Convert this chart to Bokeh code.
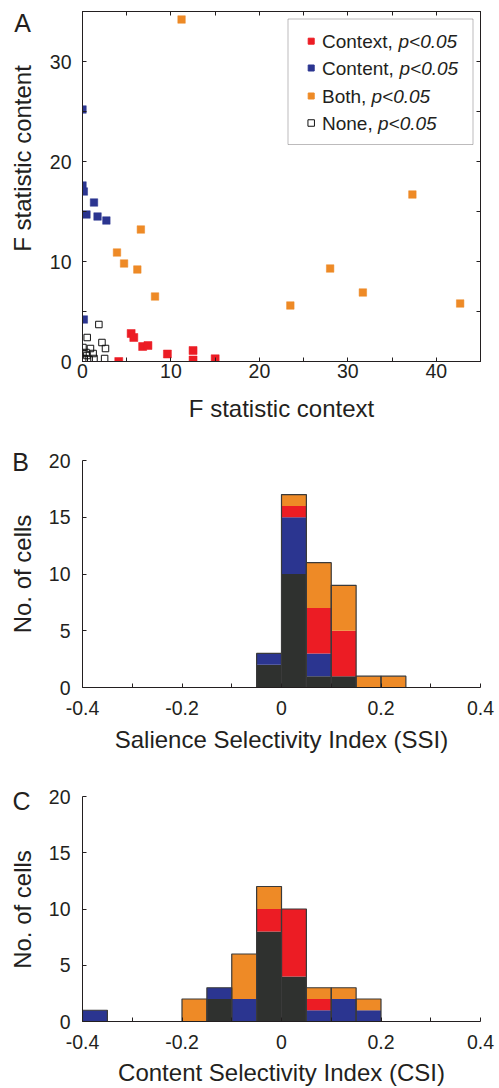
import numpy as np
from bokeh.plotting import figure
from bokeh.models import (Range1d, LinearAxis, FixedTicker, BoxAnnotation,
                          ColumnDataSource)
from bokeh.layouts import column, row
from bokeh.core.properties import value
from bokeh.embed import file_html
from bokeh.resources import INLINE

# ---------------- data ----------------
# Panel A: F statistics (x = context, y = content)
context_x = [4.1, 5.5, 5.8, 6.8, 7.4, 9.6, 12.5, 12.5, 15.0]
context_y = [0.0, 2.8, 2.4, 1.5, 1.6, 0.75, 1.1, 0.15, 0.27]
content_x = [0.0, 0.0, 0.15, 1.3, 0.45, 1.7, 2.7, 0.15]
content_y = [25.2, 17.6, 17.0, 15.9, 14.7, 14.5, 14.1, 4.2]
both_x = [11.2, 6.6, 3.9, 4.7, 6.2, 8.2, 37.3, 28.0, 31.7, 23.5, 42.7]
both_y = [34.2, 13.2, 10.9, 9.8, 9.2, 6.5, 16.7, 9.3, 6.9, 5.6, 5.8]
none_x = [1.85, 0.53, 2.2, 2.6, 0.9, 0.05, 0.05, 0.4, 1.2, 2.5, 0.2, 0.75, 1.3, 0.5]
none_y = [3.7, 2.4, 1.9, 1.3, 1.3, 1.4, 0.8, 0.9, 0.8, 0.3, 0.3, 0.2, 0.3, 0.6]

legend_names = ["Context, ", "Content, ", "Both, ", "None, "]
legend_italic = ["p<0.05", "p<0.05", "p<0.05", "p<0.05"]

a_xticks = [0, 10, 20, 30, 40]
a_xminor = [5, 15, 25, 35, 45]
a_yticks = [0, 10, 20, 30]
a_yminor = [5, 15, 25, 35]

# Panels B, C: histograms, bin edges and stacked counts
bin_edges = [-0.4, -0.35, -0.3, -0.25, -0.2, -0.15, -0.1, -0.05, 0.0,
             0.05, 0.1, 0.15, 0.2, 0.25, 0.3, 0.35, 0.4]
ssi_none    = [0, 0, 0, 0, 0, 0, 0, 2, 10, 1, 1, 0, 0, 0, 0, 0]
ssi_content = [0, 0, 0, 0, 0, 0, 0, 1, 5, 2, 0, 0, 0, 0, 0, 0]
ssi_context = [0, 0, 0, 0, 0, 0, 0, 0, 1, 4, 4, 0, 0, 0, 0, 0]
ssi_both    = [0, 0, 0, 0, 0, 0, 0, 0, 1, 4, 4, 1, 1, 0, 0, 0]
csi_none    = [0, 0, 0, 0, 0, 2, 0, 8, 4, 0, 0, 0, 0, 0, 0, 0]
csi_content = [1, 0, 0, 0, 0, 1, 2, 0, 0, 1, 2, 1, 0, 0, 0, 0]
csi_context = [0, 0, 0, 0, 0, 0, 0, 2, 6, 1, 0, 0, 0, 0, 0, 0]
csi_both    = [0, 0, 0, 0, 2, 0, 4, 2, 0, 1, 1, 1, 0, 0, 0, 0]

h_xticks = [-0.4, -0.2, 0.0, 0.2, 0.4]
h_xtick_labels = ["-0.4", "-0.2", "0", "0.2", "0.4"]
h_xminor = [-0.3, -0.1, 0.1, 0.3]
h_yticks = [0, 5, 10, 15, 20]

panel_letters = ["A", "B", "C"]
y_labels = ["F statistic content", "No. of cells", "No. of cells"]
x_labels = ["F statistic context", "Salience Selectivity Index (SSI)",
            "Content Selectivity Index (CSI)"]

# ---------------- style ----------------
RED = "#ec1c24"
BLUE = "#2b3590"
ORANGE = "#ee8a26"
DARK = "#2f312f"
TXT = "#231f20"
FONT = "Liberation Sans"
TICK_FS = "19.5px"
LAB_FS = "24px"
PAGE_W, PAGE_H = 499, 1088
STRIP = 40                      # narrow left strip holding letters and y labels
W = PAGE_W - STRIP
LEFT, RIGHT = 82 - STRIP, 19    # borders of the main figures


def style_axis(ax, standoff, labels=True):
    ax.axis_line_color = TXT
    ax.axis_line_width = 1
    ax.major_tick_line_color = TXT
    ax.minor_tick_line_color = TXT
    ax.major_tick_in = 4
    ax.major_tick_out = 0
    ax.minor_tick_in = 4
    ax.minor_tick_out = 0
    ax.major_label_text_font = FONT
    ax.major_label_text_color = TXT
    ax.major_label_standoff = standoff
    ax.major_label_text_font_size = TICK_FS
    ax.axis_label_text_font = FONT
    ax.axis_label_text_font_size = LAB_FS
    ax.axis_label_text_font_style = "normal"
    ax.axis_label_text_color = TXT
    if not labels:
        ax.major_label_text_font_size = "1px"
        ax.major_label_standoff = 0
        ax.major_label_text_alpha = 0


def px_to_data(frame, xr, yr, px, py):
    """page-pixel position -> data coordinates of a frame (left, top, w, h)"""
    l, t, w, h = frame
    x = xr[0] + (px - l) / w * (xr[1] - xr[0])
    y = yr[1] - (py - t) / h * (yr[1] - yr[0])
    return x, y


# ---------------- Panel A ----------------
A_H, A_TOP, A_FH = 430, 11, 350
a_xr, a_yr = (0, 45), (0, 35)
pA = figure(width=W, height=A_H, output_backend="svg", toolbar_location=None,
            x_range=Range1d(*a_xr), y_range=Range1d(*a_yr),
            min_border_left=LEFT, min_border_right=RIGHT,
            min_border_top=A_TOP, min_border_bottom=A_H - A_TOP - A_FH)
pA.xaxis.ticker = FixedTicker(ticks=a_xticks, minor_ticks=a_xminor)
pA.yaxis.ticker = FixedTicker(ticks=a_yticks, minor_ticks=a_yminor)
style_axis(pA.xaxis[0], 2)
style_axis(pA.yaxis[0], 11)
pA.xaxis.axis_label = x_labels[0]
pA.xaxis.axis_label_standoff = 14
top_ax = LinearAxis(ticker=FixedTicker(ticks=a_xticks, minor_ticks=a_xminor))
right_ax = LinearAxis(ticker=FixedTicker(ticks=a_yticks, minor_ticks=a_yminor))
style_axis(top_ax, 0, labels=False)
style_axis(right_ax, 0, labels=False)
pA.add_layout(top_ax, "above")
pA.add_layout(right_ax, "right")
pA.grid.grid_line_color = None
pA.outline_line_color = TXT

pA.scatter(none_x, none_y, marker="square", size=6.5, fill_color=None,
           line_color="#111111", line_width=1)
pA.scatter(both_x, both_y, marker="square", size=7.5, fill_color=ORANGE,
           line_color=ORANGE, line_alpha=0.5)
pA.scatter(content_x, content_y, marker="square", size=7.5, fill_color=BLUE,
           line_color=BLUE, line_alpha=0.5)
pA.scatter(context_x, context_y, marker="square", size=8, fill_color=RED,
           line_color=RED, line_alpha=0.5)

a_frame = (82, A_TOP, PAGE_W - 82 - RIGHT, A_FH)   # in page pixels
lb_l, lb_t = px_to_data(a_frame, a_xr, a_yr, 287.5, 18.5)
lb_r, lb_b = px_to_data(a_frame, a_xr, a_yr, 472.5, 144)
pA.add_layout(BoxAnnotation(left=lb_l, right=lb_r, top=lb_t, bottom=lb_b,
                            fill_color="white", fill_alpha=1.0,
                            line_color=TXT, line_width=1))
entry_py = [40.7, 67.5, 95.5, 122.5]
mk_x, _ = px_to_data(a_frame, a_xr, a_yr, 310.7, 0)
tx_x, _ = px_to_data(a_frame, a_xr, a_yr, 321.5, 0)
ent_y = [px_to_data(a_frame, a_xr, a_yr, 0, py)[1] for py in entry_py]
leg_colors = [RED, BLUE, ORANGE, None]
leg_lines = [RED, BLUE, ORANGE, "#111111"]
pA.scatter([mk_x] * 4, ent_y, marker="square", size=[6, 6, 6, 6.5],
           fill_color=leg_colors, line_color=leg_lines, line_width=1, level="overlay")
italic_off = [76.5, 77.5, 49.5, 56]
leg_src = ColumnDataSource(dict(x=[tx_x] * 4, y=ent_y, t=legend_names,
                                ti=legend_italic, off=italic_off))
pA.text(x="x", y="y", text="t", source=leg_src, text_font=value(FONT),
        text_font_size="19px", text_color=TXT, text_baseline="middle",
        text_align="left", level="overlay")
pA.text(x="x", y="y", text="ti", x_offset="off", source=leg_src, text_font=value(FONT),
        text_font_size="19px", text_font_style="italic", text_color=TXT,
        text_baseline="middle", text_align="left", level="overlay")


# ---------------- Panels B, C ----------------
def hist_panel(height, top, fh, layers, xlabel, lab_standoff):
    xr, yr = (-0.4, 0.4), (0, 20)
    p = figure(width=W, height=height, output_backend="svg", toolbar_location=None,
               x_range=Range1d(*xr), y_range=Range1d(*yr),
               min_border_left=LEFT, min_border_right=RIGHT,
               min_border_top=top, min_border_bottom=height - top - fh)
    p.xaxis.ticker = FixedTicker(ticks=h_xticks, minor_ticks=h_xminor)
    p.xaxis.major_label_overrides = {t: s for t, s in zip(h_xticks, h_xtick_labels)}
    p.yaxis.ticker = FixedTicker(ticks=h_yticks)
    style_axis(p.xaxis[0], 13)
    style_axis(p.yaxis[0], 12)
    p.xaxis.axis_label = xlabel
    p.xaxis.axis_label_standoff = lab_standoff
    p.grid.grid_line_color = None
    p.outline_line_color = None
    left = np.array(bin_edges[:-1])
    right = np.array(bin_edges[1:])
    bottom = np.zeros(len(left))
    for counts, color in layers:
        c = np.array(counts, dtype=float)
        m = c > 0
        p.quad(left=left[m], right=right[m], bottom=bottom[m], top=(bottom + c)[m],
               fill_color=color, line_color=None)
        bottom = bottom + c
    m = bottom > 0
    p.quad(left=left[m], right=right[m], bottom=np.zeros(m.sum()), top=bottom[m],
           fill_color=None, line_color="#3a3a3a", line_width=1.2)
    return p


pB = hist_panel(330, 30, 227,
                [(ssi_none, DARK), (ssi_content, BLUE), (ssi_context, RED), (ssi_both, ORANGE)],
                x_labels[1], 8)
pC = hist_panel(328, 36, 226,
                [(csi_none, DARK), (csi_content, BLUE), (csi_context, RED), (csi_both, ORANGE)],
                x_labels[2], 7)

# ---------------- left strip: panel letters and y-axis labels ----------------
strip = figure(width=STRIP, height=PAGE_H, output_backend="svg", toolbar_location=None,
               x_range=Range1d(0, STRIP), y_range=Range1d(PAGE_H, 0),
               x_axis_type=None, y_axis_type=None,
               min_border_left=0, min_border_right=0, min_border_top=0,
               min_border_bottom=0)
strip.grid.grid_line_color = None
strip.outline_line_color = None
letter_pos = dict(x=[22, 20, 21], y=[22, 461, 800])   # page pixels
ylab_pos = dict(x=[22, 22, 22], y=[158, 573.5, 909])
strip.text(x=letter_pos["x"], y=letter_pos["y"], text=panel_letters,
           text_font=value(FONT), text_font_size="25px", text_color=TXT,
           text_align="center", text_baseline="middle")
strip.text(x=ylab_pos["x"], y=ylab_pos["y"], text=y_labels, angle=np.pi / 2,
           text_font=value(FONT), text_font_size=LAB_FS, text_color=TXT,
           text_align="center", text_baseline="middle")

layout = row(strip, column(pA, pB, pC, spacing=0), spacing=0)
open("out.html", "w").write(file_html(layout, INLINE))
